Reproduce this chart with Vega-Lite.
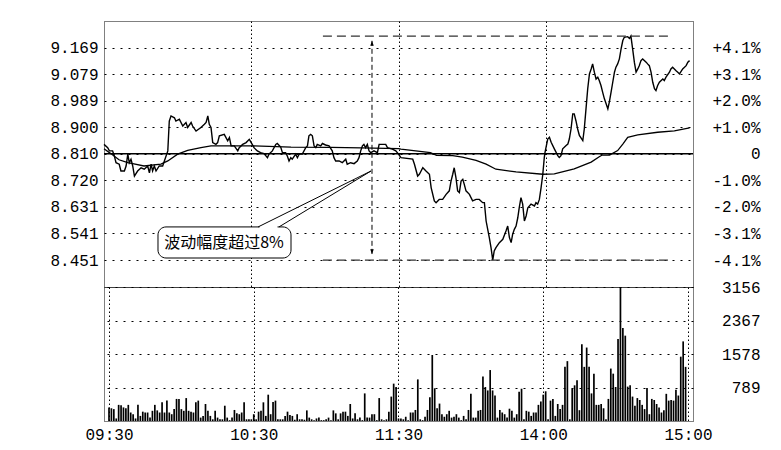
{
  "$schema": "https://vega.github.io/schema/vega-lite/v6.json",
  "background": "white",
  "padding": {"left": 49, "top": 20, "right": 10, "bottom": 5},
  "bounds": "flush",
  "spacing": 0,
  "config": {
    "view": {"stroke": "#000", "strokeDash": [1, 1], "strokeWidth": 1},
    "axis": {"labelFont": "Liberation Mono", "labelFontSize": 16, "labelColor": "#000", "ticks": false, "tickSize": 0, "domain": false, "gridColor": "#000", "gridOpacity": 1, "gridWidth": 1, "labelPadding": 6, "labelOverlap": false, "labelFlush": false}
  },
  "datasets": {
    "price": [
      {"m":0,"p":8.842},{"m":1.5,"p":8.831},{"m":2.2,"p":8.820},{"m":3.5,"p":8.820},{"m":4.2,"p":8.803},{"m":4.9,"p":8.780},{"m":6.2,"p":8.775},{"m":6.9,"p":8.752},{"m":8.3,"p":8.752},{"m":9.0,"p":8.769},{"m":9.7,"p":8.809},{"m":10.3,"p":8.780},{"m":11,"p":8.792},{"m":11.7,"p":8.769},{"m":12.4,"p":8.735},{"m":13.7,"p":8.752},{"m":15.1,"p":8.763},{"m":16.4,"p":8.758},{"m":17.8,"p":8.769},{"m":18.5,"p":8.746},{"m":19.2,"p":8.775},{"m":19.8,"p":8.752},{"m":20.5,"p":8.769},{"m":21.2,"p":8.752},{"m":22.5,"p":8.769},{"m":23.9,"p":8.769},{"m":24.6,"p":8.786},{"m":26,"p":8.820},{"m":26.6,"p":8.921},{"m":27.3,"p":8.938},{"m":28.7,"p":8.932},{"m":29.3,"p":8.921},{"m":30.7,"p":8.927},{"m":32.1,"p":8.904},{"m":33.4,"p":8.916},{"m":34.1,"p":8.899},{"m":35.5,"p":8.916},{"m":36.1,"p":8.904},{"m":37.5,"p":8.887},{"m":39.5,"p":8.899},{"m":40.9,"p":8.910},{"m":41.6,"p":8.916},{"m":42.3,"p":8.938},{"m":42.9,"p":8.910},{"m":43.6,"p":8.899},{"m":44.3,"p":8.848},{"m":45.6,"p":8.842},{"m":46.3,"p":8.848},{"m":47.0,"p":8.871},{"m":49.0,"p":8.876},{"m":50.4,"p":8.854},{"m":51.1,"p":8.865},{"m":51.8,"p":8.837},{"m":53.1,"p":8.837},{"m":54.5,"p":8.820},{"m":55.1,"p":8.831},{"m":56.5,"p":8.842},{"m":57.9,"p":8.848},{"m":59.2,"p":8.859},{"m":60.4,"p":8.842},{"m":61.1,"p":8.831},{"m":62.5,"p":8.820},{"m":63.8,"p":8.814},{"m":65.2,"p":8.811},{"m":66.6,"p":8.797},{"m":67.2,"p":8.809},{"m":68.6,"p":8.820},{"m":70.0,"p":8.842},{"m":70.6,"p":8.845},{"m":72.0,"p":8.833},{"m":72.7,"p":8.814},{"m":74.0,"p":8.814},{"m":74.7,"p":8.803},{"m":75.4,"p":8.786},{"m":76.1,"p":8.797},{"m":76.7,"p":8.792},{"m":78.1,"p":8.809},{"m":78.8,"p":8.797},{"m":79.5,"p":8.809},{"m":80.8,"p":8.809},{"m":82.2,"p":8.831},{"m":82.9,"p":8.837},{"m":83.5,"p":8.871},{"m":84.2,"p":8.876},{"m":84.9,"p":8.871},{"m":85.6,"p":8.837},{"m":86.3,"p":8.831},{"m":86.9,"p":8.842},{"m":88.3,"p":8.837},{"m":89.0,"p":8.845},{"m":90.3,"p":8.840},{"m":91.7,"p":8.837},{"m":93.0,"p":8.820},{"m":93.7,"p":8.797},{"m":94.4,"p":8.786},{"m":95.8,"p":8.786},{"m":97.1,"p":8.780},{"m":98.5,"p":8.792},{"m":99.1,"p":8.775},{"m":100.5,"p":8.780},{"m":101.9,"p":8.777},{"m":103.2,"p":8.786},{"m":103.9,"p":8.797},{"m":104.6,"p":8.820},{"m":105.3,"p":8.837},{"m":105.9,"p":8.842},{"m":106.6,"p":8.831},{"m":107.3,"p":8.842},{"m":108.0,"p":8.820},{"m":108.7,"p":8.814},{"m":110.0,"p":8.820},{"m":111.4,"p":8.814},{"m":112.1,"p":8.842},{"m":114.8,"p":8.842},{"m":115.5,"p":8.831},{"m":117.5,"p":8.826},{"m":118.9,"p":8.820},{"m":120,"p":8.809},{"m":121,"p":8.797},{"m":125.8,"p":8.792},{"m":126.5,"p":8.775},{"m":127.8,"p":8.735},{"m":128.5,"p":8.741},{"m":129.2,"p":8.752},{"m":129.9,"p":8.763},{"m":131.2,"p":8.752},{"m":132.6,"p":8.741},{"m":133.3,"p":8.696},{"m":134.6,"p":8.651},{"m":135.3,"p":8.645},{"m":136.6,"p":8.656},{"m":138.0,"p":8.656},{"m":139.4,"p":8.673},{"m":140.7,"p":8.685},{"m":141.4,"p":8.718},{"m":142.1,"p":8.741},{"m":142.7,"p":8.763},{"m":143.4,"p":8.730},{"m":144.1,"p":8.685},{"m":144.8,"p":8.679},{"m":145.5,"p":8.718},{"m":146.2,"p":8.724},{"m":146.8,"p":8.707},{"m":147.5,"p":8.685},{"m":148.9,"p":8.673},{"m":150.2,"p":8.651},{"m":151.6,"p":8.656},{"m":152.9,"p":8.656},{"m":154.3,"p":8.645},{"m":155.0,"p":8.645},{"m":155.7,"p":8.583},{"m":157.0,"p":8.527},{"m":157.7,"p":8.493},{"m":158.4,"p":8.451},{"m":159.0,"p":8.482},{"m":159.7,"p":8.493},{"m":161.1,"p":8.510},{"m":162.5,"p":8.521},{"m":163.8,"p":8.549},{"m":164.5,"p":8.566},{"m":165.2,"p":8.527},{"m":165.9,"p":8.510},{"m":166.5,"p":8.538},{"m":167.2,"p":8.555},{"m":167.9,"p":8.566},{"m":168.6,"p":8.594},{"m":169.2,"p":8.628},{"m":169.9,"p":8.662},{"m":170.6,"p":8.640},{"m":171.3,"p":8.583},{"m":172.0,"p":8.600},{"m":172.7,"p":8.628},{"m":174.0,"p":8.640},{"m":175.4,"p":8.634},{"m":176.0,"p":8.645},{"m":176.7,"p":8.640},{"m":177.4,"p":8.656},{"m":178.1,"p":8.696},{"m":178.8,"p":8.741},{"m":179.4,"p":8.797},{"m":179.7,"p":8.815},{"m":180.8,"p":8.860},{"m":181.5,"p":8.866},{"m":182.2,"p":8.849},{"m":183.5,"p":8.827},{"m":184.9,"p":8.804},{"m":185.5,"p":8.798},{"m":186.2,"p":8.804},{"m":186.9,"p":8.827},{"m":188.3,"p":8.838},{"m":189.0,"p":8.843},{"m":189.6,"p":8.860},{"m":190.3,"p":8.894},{"m":191.0,"p":8.945},{"m":191.6,"p":8.945},{"m":192.3,"p":8.922},{"m":193.0,"p":8.894},{"m":193.7,"p":8.872},{"m":195.1,"p":8.855},{"m":195.7,"p":8.894},{"m":196.4,"p":8.962},{"m":197.1,"p":9.030},{"m":197.8,"p":9.080},{"m":198.5,"p":9.097},{"m":199.1,"p":9.114},{"m":199.8,"p":9.086},{"m":200.5,"p":9.063},{"m":201.2,"p":9.069},{"m":201.8,"p":9.058},{"m":202.5,"p":9.041},{"m":203.2,"p":9.018},{"m":203.9,"p":8.996},{"m":204.6,"p":8.979},{"m":205.3,"p":8.962},{"m":205.9,"p":8.985},{"m":206.6,"p":9.018},{"m":207.3,"p":9.052},{"m":208.0,"p":9.086},{"m":208.6,"p":9.103},{"m":209.3,"p":9.114},{"m":210.0,"p":9.131},{"m":210.7,"p":9.165},{"m":211.4,"p":9.193},{"m":212.0,"p":9.204},{"m":213.4,"p":9.206},{"m":214.1,"p":9.200},{"m":214.7,"p":9.208},{"m":215.4,"p":9.165},{"m":216.1,"p":9.120},{"m":216.8,"p":9.086},{"m":217.5,"p":9.097},{"m":218.1,"p":9.108},{"m":218.8,"p":9.125},{"m":219.5,"p":9.131},{"m":220.9,"p":9.120},{"m":221.5,"p":9.114},{"m":222.2,"p":9.108},{"m":222.9,"p":9.086},{"m":223.6,"p":9.052},{"m":224.3,"p":9.030},{"m":224.9,"p":9.024},{"m":225.6,"p":9.041},{"m":226.3,"p":9.052},{"m":227.7,"p":9.063},{"m":228.3,"p":9.058},{"m":229.0,"p":9.069},{"m":230.4,"p":9.086},{"m":231.0,"p":9.097},{"m":231.7,"p":9.103},{"m":233.1,"p":9.091},{"m":233.8,"p":9.086},{"m":234.5,"p":9.080},{"m":235.8,"p":9.097},{"m":237.2,"p":9.108},{"m":237.9,"p":9.120},{"m":238.6,"p":9.125}
    ],
    "avg": [
      {"m":0,"p":8.827},{"m":2.9,"p":8.810},{"m":6.1,"p":8.790},{"m":9.7,"p":8.780},{"m":12.2,"p":8.776},{"m":16.3,"p":8.769},{"m":23.2,"p":8.775},{"m":26,"p":8.786},{"m":30,"p":8.809},{"m":34.1,"p":8.822},{"m":39.5,"p":8.831},{"m":43.6,"p":8.837},{"m":59.9,"p":8.837},{"m":76.2,"p":8.833},{"m":92.5,"p":8.832},{"m":104.7,"p":8.830},{"m":120,"p":8.828},{"m":121,"p":8.826},{"m":133,"p":8.814},{"m":135.5,"p":8.805},{"m":142.1,"p":8.804},{"m":146,"p":8.799},{"m":151.6,"p":8.788},{"m":155.7,"p":8.775},{"m":159.7,"p":8.758},{"m":167.9,"p":8.749},{"m":178.8,"p":8.741},{"m":183.5,"p":8.742},{"m":191.6,"p":8.759},{"m":198.5,"p":8.782},{"m":201.8,"p":8.800},{"m":203,"p":8.806},{"m":206,"p":8.806},{"m":209.3,"p":8.821},{"m":211.4,"p":8.843},{"m":213.4,"p":8.866},{"m":217.5,"p":8.874},{"m":225.6,"p":8.883},{"m":232.4,"p":8.888},{"m":238.6,"p":8.898}
    ],
    "vol": [
      {"m":0,"v":320},{"m":1,"v":300},{"m":2,"v":280},{"m":3,"v":60},{"m":4,"v":380},{"m":5,"v":370},{"m":6,"v":320},{"m":7,"v":300},{"m":8,"v":380},{"m":9,"v":200},{"m":10,"v":160},{"m":11,"v":60},{"m":12,"v":380},{"m":13,"v":120},{"m":14,"v":220},{"m":15,"v":200},{"m":16,"v":200},{"m":17,"v":80},{"m":18,"v":240},{"m":19,"v":380},{"m":20,"v":250},{"m":21,"v":200},{"m":22,"v":440},{"m":23,"v":200},{"m":24,"v":480},{"m":25,"v":200},{"m":26,"v":160},{"m":27,"v":280},{"m":28,"v":520},{"m":29,"v":520},{"m":30,"v":280},{"m":31,"v":240},{"m":32,"v":540},{"m":33,"v":240},{"m":34,"v":220},{"m":35,"v":200},{"m":36,"v":440},{"m":37,"v":480},{"m":38,"v":80},{"m":39,"v":120},{"m":40,"v":400},{"m":41,"v":240},{"m":42,"v":120},{"m":43,"v":40},{"m":44,"v":240},{"m":45,"v":80},{"m":46,"v":40},{"m":47,"v":40},{"m":48,"v":360},{"m":49,"v":80},{"m":50,"v":20},{"m":51,"v":80},{"m":52,"v":260},{"m":53,"v":180},{"m":54,"v":160},{"m":55,"v":200},{"m":56,"v":440},{"m":57,"v":40},{"m":58,"v":40},{"m":59,"v":40},
      {"m":60,"v":160},{"m":61,"v":40},{"m":62,"v":220},{"m":63,"v":240},{"m":64,"v":440},{"m":65,"v":120},{"m":66,"v":620},{"m":67,"v":160},{"m":68,"v":450},{"m":69,"v":480},{"m":70,"v":40},{"m":71,"v":40},{"m":72,"v":40},{"m":73,"v":120},{"m":74,"v":220},{"m":75,"v":140},{"m":76,"v":120},{"m":77,"v":30},{"m":78,"v":160},{"m":79,"v":40},{"m":80,"v":40},{"m":81,"v":30},{"m":82,"v":250},{"m":83,"v":80},{"m":84,"v":40},{"m":85,"v":20},{"m":86,"v":60},{"m":87,"v":80},{"m":88,"v":20},{"m":89,"v":20},{"m":90,"v":40},{"m":91,"v":80},{"m":92,"v":20},{"m":93,"v":250},{"m":94,"v":180},{"m":95,"v":40},{"m":96,"v":180},{"m":97,"v":220},{"m":98,"v":220},{"m":99,"v":120},{"m":100,"v":400},{"m":101,"v":60},{"m":102,"v":180},{"m":103,"v":40},{"m":104,"v":80},{"m":105,"v":20},{"m":106,"v":650},{"m":107,"v":80},{"m":108,"v":80},{"m":109,"v":160},{"m":110,"v":160},{"m":111,"v":20},{"m":112,"v":540},{"m":113,"v":40},{"m":114,"v":20},{"m":115,"v":40},{"m":116,"v":220},{"m":117,"v":575},{"m":118,"v":880},{"m":119,"v":800},
      {"m":120,"v":60},{"m":121,"v":60},{"m":122,"v":40},{"m":123,"v":100},{"m":124,"v":20},{"m":125,"v":200},{"m":126,"v":200},{"m":127,"v":260},{"m":128,"v":980},{"m":129,"v":40},{"m":130,"v":20},{"m":131,"v":100},{"m":132,"v":260},{"m":133,"v":560},{"m":134,"v":1555},{"m":135,"v":770},{"m":136,"v":300},{"m":137,"v":410},{"m":138,"v":160},{"m":139,"v":100},{"m":140,"v":160},{"m":141,"v":240},{"m":142,"v":80},{"m":143,"v":100},{"m":144,"v":160},{"m":145,"v":80},{"m":146,"v":20},{"m":147,"v":120},{"m":148,"v":40},{"m":149,"v":260},{"m":150,"v":640},{"m":151,"v":80},{"m":152,"v":80},{"m":153,"v":240},{"m":154,"v":260},{"m":155,"v":1050},{"m":156,"v":800},{"m":157,"v":720},{"m":158,"v":1200},{"m":159,"v":720},{"m":160,"v":600},{"m":161,"v":80},{"m":162,"v":260},{"m":163,"v":200},{"m":164,"v":160},{"m":165,"v":80},{"m":166,"v":290},{"m":167,"v":240},{"m":168,"v":80},{"m":169,"v":160},{"m":170,"v":690},{"m":171,"v":760},{"m":172,"v":40},{"m":173,"v":240},{"m":174,"v":220},{"m":175,"v":120},{"m":176,"v":200},{"m":177,"v":200},{"m":178,"v":380},{"m":179,"v":460},
      {"m":180,"v":620},{"m":181,"v":700},{"m":182,"v":40},{"m":183,"v":480},{"m":184,"v":520},{"m":185,"v":120},{"m":186,"v":400},{"m":187,"v":280},{"m":188,"v":380},{"m":189,"v":1275},{"m":190,"v":1410},{"m":191,"v":40},{"m":192,"v":760},{"m":193,"v":840},{"m":194,"v":960},{"m":195,"v":255},{"m":196,"v":1810},{"m":197,"v":1275},{"m":198,"v":1730},{"m":199,"v":1275},{"m":200,"v":650},{"m":201,"v":1115},{"m":202,"v":380},{"m":203,"v":380},{"m":204,"v":400},{"m":205,"v":300},{"m":206,"v":40},{"m":207,"v":520},{"m":208,"v":1235},{"m":209,"v":1115},{"m":210,"v":800},{"m":211,"v":1930},{"m":212,"v":3156},{"m":213,"v":2190},{"m":214,"v":2010},{"m":215,"v":810},{"m":216,"v":840},{"m":217,"v":575},{"m":218,"v":360},{"m":219,"v":540},{"m":220,"v":495},{"m":221,"v":380},{"m":222,"v":280},{"m":223,"v":780},{"m":224,"v":160},{"m":225,"v":520},{"m":226,"v":495},{"m":227,"v":400},{"m":228,"v":320},{"m":229,"v":200},{"m":230,"v":255},{"m":231,"v":640},{"m":232,"v":480},{"m":233,"v":495},{"m":234,"v":480},{"m":235,"v":735},{"m":236,"v":600},{"m":237,"v":1515},{"m":238,"v":1875},{"m":239,"v":1275}
    ]
  },
  "vconcat": [
    {
      "width": 589,
      "height": 266,
      "layer": [
        {
          "layer": [
            {
              "data": {"values": [{"p": 8.81}]},
              "mark": {"type": "rule", "color": "#000", "strokeWidth": 1.5},
              "encoding": {
                "y": {"field": "p", "type": "quantitative", "scale": {"domain": [8.36, 9.259], "nice": false, "zero": false},
                  "axis": {"orient": "left", "title": null, "values": [8.451, 8.541, 8.631, 8.72, 8.81, 8.9, 8.989, 9.079, 9.169], "tickCount": 20, "format": ".3f", "grid": true, "gridDash": [2, 6], "labelPadding": 6, "labelOverlap": false}}
              }
            },
            {
              "data": {"name": "price"},
              "mark": {"type": "line", "color": "#000", "strokeWidth": 1.4},
              "encoding": {
                "x": {"field": "m", "type": "quantitative", "scale": {"domain": [0, 240], "nice": false, "zero": false},
                  "axis": {"title": null, "values": [60, 120, 180], "tickCount": 20, "labels": false, "grid": true, "gridDash": [1.5, 2.5]}},
                "y": {"field": "p", "type": "quantitative"}
              }
            },
            {
              "data": {"values": [{"m": 89.2, "m2": 230.6, "p": 9.208}, {"m": 89.2, "m2": 230.6, "p": 8.451}]},
              "mark": {"type": "rule", "color": "#333", "strokeWidth": 1.3, "strokeDash": [9, 5]},
              "encoding": {"x": {"field": "m", "type": "quantitative"}, "x2": {"field": "m2"}, "y": {"field": "p", "type": "quantitative"}}
            },
            {
              "data": {"values": [{"m": 109.2, "p": 9.192, "p2": 8.471}]},
              "mark": {"type": "rule", "color": "#000", "strokeWidth": 1, "strokeDash": [5, 3]},
              "encoding": {"x": {"field": "m", "type": "quantitative"}, "y": {"field": "p", "type": "quantitative"}, "y2": {"field": "p2"}}
            },
            {
              "data": {"values": [{"m": 109.2, "p": 9.192}]},
              "mark": {"type": "point", "shape": "M0,0L0.35,1L-0.35,1Z", "size": 100, "filled": true, "color": "#000", "opacity": 1},
              "encoding": {"x": {"field": "m", "type": "quantitative"}, "y": {"field": "p", "type": "quantitative"}}
            },
            {
              "data": {"values": [{"m": 109.2, "p": 8.471}]},
              "mark": {"type": "point", "shape": "M0,0L0.35,-1L-0.35,-1Z", "size": 100, "filled": true, "color": "#000", "opacity": 1},
              "encoding": {"x": {"field": "m", "type": "quantitative"}, "y": {"field": "p", "type": "quantitative"}}
            },
            {
              "data": {"values": [{"m": 22.0, "m2": 76.2, "p": 8.563, "p2": 8.458}]},
              "mark": {"type": "rect", "fill": "white", "stroke": "#000", "strokeWidth": 1, "cornerRadius": 8},
              "encoding": {"x": {"field": "m", "type": "quantitative"}, "x2": {"field": "m2"}, "y": {"field": "p", "type": "quantitative"}, "y2": {"field": "p2"}}
            },
            {
              "data": {"values": [{"m": 63.4, "m2": 70.7, "p": 8.563}]},
              "mark": {"type": "rule", "color": "white", "strokeWidth": 2.5},
              "encoding": {"x": {"field": "m", "type": "quantitative"}, "x2": {"field": "m2"}, "y": {"field": "p", "type": "quantitative"}}
            },
            {
              "data": {"values": [{"m": 62.8, "p": 8.563, "o": 0}, {"m": 108.8, "p": 8.752, "o": 1}, {"m": 71.3, "p": 8.563, "o": 2}]},
              "mark": {"type": "line", "color": "#000", "strokeWidth": 1},
              "encoding": {"x": {"field": "m", "type": "quantitative"}, "y": {"field": "p", "type": "quantitative"}, "order": {"field": "o", "type": "quantitative"}}
            },
            {
              "data": {"values": [{"m": 48.9, "p": 8.509, "t": "波动幅度超过8%"}]},
              "mark": {"type": "text", "font": "Noto Sans CJK SC", "fontSize": 16, "color": "#000", "align": "center", "baseline": "middle"},
              "encoding": {"x": {"field": "m", "type": "quantitative"}, "y": {"field": "p", "type": "quantitative"}, "text": {"field": "t"}}
            }
          ]
        },
        {
          "data": {"name": "avg"},
          "mark": {"type": "line", "color": "#000", "strokeWidth": 1.3},
          "encoding": {
            "x": {"field": "m", "type": "quantitative"},
            "y": {"field": "p", "type": "quantitative", "scale": {"domain": [8.36, 9.259], "nice": false, "zero": false},
              "axis": {"orient": "right", "title": null, "values": [8.451, 8.541, 8.631, 8.72, 8.81, 8.9, 8.989, 9.079, 9.169], "tickCount": 20, "grid": false, "labelAlign": "right", "labelPadding": 67, "labelOverlap": false,
                "labelExpr": "datum.value > 8.81 ? '+' + format((datum.value / 8.81 - 1) * 100, '.1f') + '%' : (datum.value < 8.81 ? '-' + format((1 - datum.value / 8.81) * 100, '.1f') + '%' : '0')"}}
          }
        }
      ],
      "resolve": {"scale": {"y": "independent"}}
    },
    {
      "width": 589,
      "height": 134,
      "data": {"name": "vol"},
      "mark": {"type": "bar", "orient": "vertical", "width": 1.7, "color": "#000"},
      "encoding": {
        "x": {"field": "m", "type": "quantitative", "scale": {"domain": [0, 240], "nice": false, "zero": false},
          "axis": {"title": null, "values": [0, 60, 120, 180, 240], "tickCount": 20, "grid": true, "gridDash": [1.5, 2.5], "labelPadding": 5, "labelOverlap": false,
            "labelExpr": "datum.value == 0 ? '09:30' : datum.value == 60 ? '10:30' : datum.value == 120 ? '11:30' : datum.value == 180 ? '14:00' : '15:00'"}},
        "y": {"field": "v", "type": "quantitative", "scale": {"domain": [0, 3156], "nice": false},
          "axis": {"orient": "right", "title": null, "values": [789, 1578, 2367, 3156], "tickCount": 20, "format": "d", "grid": true, "gridDash": [2, 6], "labelAlign": "right", "labelPadding": 67, "labelOverlap": false}}
      }
    }
  ]
}
